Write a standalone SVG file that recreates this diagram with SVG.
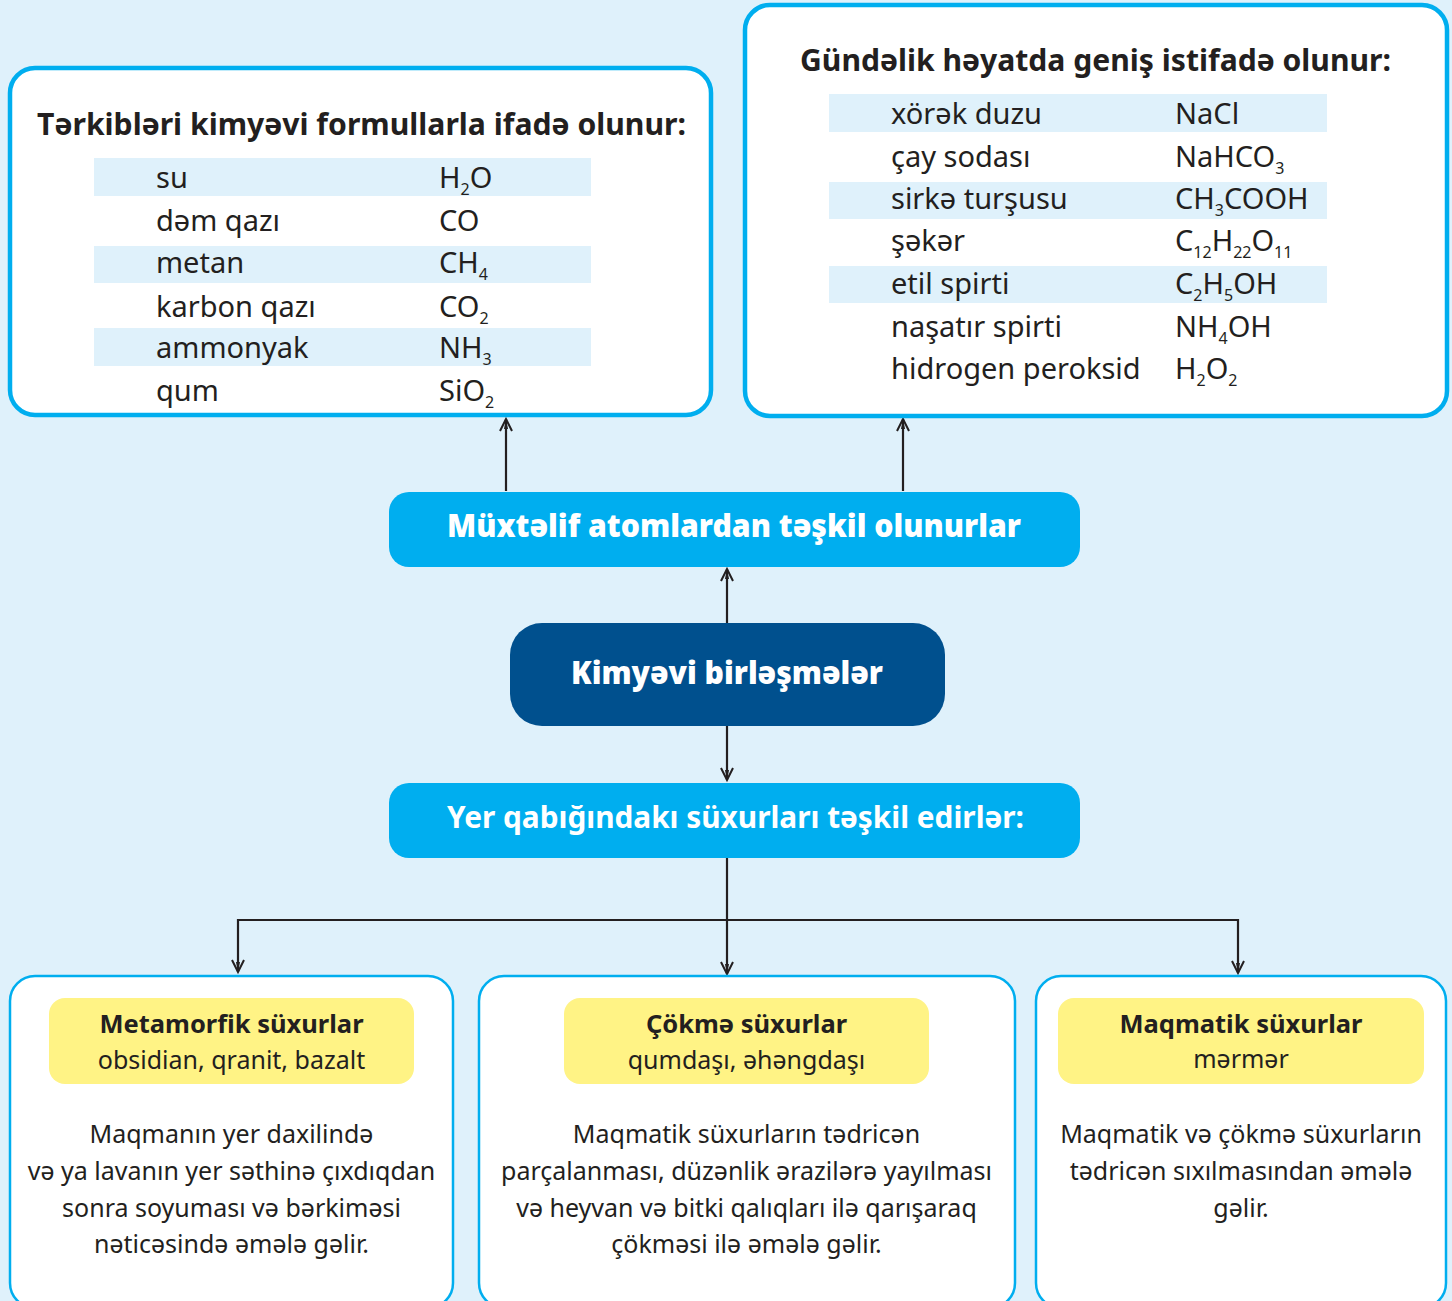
<svg xmlns="http://www.w3.org/2000/svg" width="1452" height="1301" viewBox="0 0 1452 1301">
<defs>
<style>
.t{font-family:"Noto Sans","Open Sans","DejaVu Sans",sans-serif;fill:#231f20}
.tb{font-size:29px}
.sub{font-size:16px}
.ttl{font-size:30px;font-weight:700}
.pt{font-family:"Noto Sans","Open Sans","DejaVu Sans",sans-serif;fill:#ffffff;font-weight:900;text-anchor:middle}
.hd{font-size:25.5px;font-weight:700;text-anchor:middle}
.sb{font-size:25px;text-anchor:middle}
.bd{font-size:25px;text-anchor:middle}
.bigbox{fill:#ffffff;stroke:#00aeef;stroke-width:4.5}
.lowbox{fill:#ffffff;stroke:#00aeef;stroke-width:2.5}
.stripe{fill:#dff1fb}
.yel{fill:#fff385}
.pill{fill:#00aeef}
.dark{fill:#00508e}
.con{fill:none;stroke:#231f20;stroke-width:2.2}
</style>
<marker id="arr" viewBox="-14 -8 16 16" refX="0" refY="0" markerWidth="16" markerHeight="16" markerUnits="userSpaceOnUse" orient="auto" overflow="visible">
<path d="M-12,-6 L0,0 L-12,6" fill="none" stroke="#231f20" stroke-width="2"/>
<path d="M-10,-2 L0,0 L-10,2 Z" fill="#231f20"/>
</marker>
</defs>
<rect x="0" y="0" width="1452" height="1301" fill="#dff1fb"/>

<g id="connectors">
<path class="con" d="M506,491 V419" marker-end="url(#arr)"/>
<path class="con" d="M903,491 V419" marker-end="url(#arr)"/>
<path class="con" d="M727,623 V569" marker-end="url(#arr)"/>
<path class="con" d="M727,726 V780" marker-end="url(#arr)"/>
<path class="con" d="M727,858 V974" marker-end="url(#arr)"/>
<path class="con" d="M727,920 H238 V972" marker-end="url(#arr)"/>
<path class="con" d="M727,920 H1238 V973" marker-end="url(#arr)"/>
</g>

<g id="formulas-box">
<rect class="bigbox" x="10" y="68" width="701" height="347" rx="25"/>
<text class="t ttl" x="361.5" y="135" text-anchor="middle" textLength="649" lengthAdjust="spacingAndGlyphs">Tərkibləri kimyəvi formullarla ifadə olunur:</text>
<rect class="stripe" x="94" y="158" width="497" height="38"/>
<rect class="stripe" x="94" y="246" width="497" height="37"/>
<rect class="stripe" x="94" y="328" width="497" height="38"/>
<text class="t tb" x="156" y="188">su</text>
<text class="t tb" x="439" y="188">H<tspan class="sub" dy="7">2</tspan><tspan dy="-7">O</tspan></text>
<text class="t tb" x="156" y="231">dəm qazı</text>
<text class="t tb" x="439" y="231">CO</text>
<text class="t tb" x="156" y="273">metan</text>
<text class="t tb" x="439" y="273">CH<tspan class="sub" dy="7">4</tspan></text>
<text class="t tb" x="156" y="317">karbon qazı</text>
<text class="t tb" x="439" y="317">CO<tspan class="sub" dy="7">2</tspan></text>
<text class="t tb" x="156" y="358">ammonyak</text>
<text class="t tb" x="439" y="358">NH<tspan class="sub" dy="7">3</tspan></text>
<text class="t tb" x="156" y="401">qum</text>
<text class="t tb" x="439" y="401">SiO<tspan class="sub" dy="7">2</tspan></text>
</g>

<g id="daily-box">
<rect class="bigbox" x="745" y="5" width="702" height="411" rx="25"/>
<text class="t ttl" x="1095.5" y="71" text-anchor="middle" textLength="591" lengthAdjust="spacingAndGlyphs">Gündəlik həyatda geniş istifadə olunur:</text>
<rect class="stripe" x="829" y="94" width="498" height="38"/>
<rect class="stripe" x="829" y="182" width="498" height="37"/>
<rect class="stripe" x="829" y="266" width="498" height="37"/>
<text class="t tb" x="891" y="124">xörək duzu</text>
<text class="t tb" x="1175" y="124">NaCl</text>
<text class="t tb" x="891" y="167">çay sodası</text>
<text class="t tb" x="1175" y="167">NaHCO<tspan class="sub" dy="7">3</tspan></text>
<text class="t tb" x="891" y="209">sirkə turşusu</text>
<text class="t tb" x="1175" y="209">CH<tspan class="sub" dy="7">3</tspan><tspan dy="-7">COOH</tspan></text>
<text class="t tb" x="891" y="251">şəkər</text>
<text class="t tb" x="1175" y="251">C<tspan class="sub" dy="7">12</tspan><tspan dy="-7">H</tspan><tspan class="sub" dy="7">22</tspan><tspan dy="-7">O</tspan><tspan class="sub" dy="7">11</tspan></text>
<text class="t tb" x="891" y="294">etil spirti</text>
<text class="t tb" x="1175" y="294">C<tspan class="sub" dy="7">2</tspan><tspan dy="-7">H</tspan><tspan class="sub" dy="7">5</tspan><tspan dy="-7">OH</tspan></text>
<text class="t tb" x="891" y="337">naşatır spirti</text>
<text class="t tb" x="1175" y="337">NH<tspan class="sub" dy="7">4</tspan><tspan dy="-7">OH</tspan></text>
<text class="t tb" x="891" y="379">hidrogen peroksid</text>
<text class="t tb" x="1175" y="379">H<tspan class="sub" dy="7">2</tspan><tspan dy="-7">O</tspan><tspan class="sub" dy="7">2</tspan></text>
</g>

<g id="atoms-node">
<rect class="pill" x="389" y="492" width="691" height="75" rx="20"/>
<text class="pt" x="734" y="537" font-size="31" textLength="574" lengthAdjust="spacingAndGlyphs">Müxtəlif atomlardan təşkil olunurlar</text>
</g>

<g id="compounds-node">
<rect class="dark" x="510" y="623" width="435" height="103" rx="32"/>
<text class="pt" x="727" y="684" font-size="31" textLength="312" lengthAdjust="spacingAndGlyphs">Kimyəvi birləşmələr</text>
</g>

<g id="rocks-node">
<rect class="pill" x="389" y="783" width="691" height="75" rx="20"/>
<text class="pt" x="735.5" y="828" font-size="30" font-weight="700" style="font-weight:700" textLength="577" lengthAdjust="spacingAndGlyphs">Yer qabığındakı süxurları təşkil edirlər:</text>
</g>

<g id="metamorphic-node">
<rect class="lowbox" x="10" y="976" width="443" height="332" rx="25"/>
<rect class="yel" x="49" y="998" width="365" height="86" rx="16"/>
<text class="t hd" x="231.5" y="1033">Metamorfik süxurlar</text>
<text class="t sb" x="231.5" y="1069">obsidian, qranit, bazalt</text>
<text class="t bd" x="231.5" y="1143">Maqmanın yer daxilində</text>
<text class="t bd" x="231.5" y="1180">və ya lavanın yer səthinə çıxdıqdan</text>
<text class="t bd" x="231.5" y="1217">sonra soyuması və bərkiməsi</text>
<text class="t bd" x="231.5" y="1253">nəticəsində əmələ gəlir.</text>
</g>

<g id="sedimentary-node">
<rect class="lowbox" x="479" y="976" width="536" height="332" rx="25"/>
<rect class="yel" x="564" y="998" width="365" height="86" rx="16"/>
<text class="t hd" x="746.5" y="1033">Çökmə süxurlar</text>
<text class="t sb" x="746.5" y="1069">qumdaşı, əhəngdaşı</text>
<text class="t bd" x="746.5" y="1143">Maqmatik süxurların tədricən</text>
<text class="t bd" x="746.5" y="1180">parçalanması, düzənlik ərazilərə yayılması</text>
<text class="t bd" x="746.5" y="1217">və heyvan və bitki qalıqları ilə qarışaraq</text>
<text class="t bd" x="746.5" y="1253">çökməsi ilə əmələ gəlir.</text>
</g>

<g id="igneous-node">
<rect class="lowbox" x="1036" y="976" width="410" height="332" rx="25"/>
<rect class="yel" x="1058" y="998" width="366" height="86" rx="16"/>
<text class="t hd" x="1241" y="1033">Maqmatik süxurlar</text>
<text class="t sb" x="1241" y="1068">mərmər</text>
<text class="t bd" x="1241" y="1143">Maqmatik və çökmə süxurların</text>
<text class="t bd" x="1241" y="1180">tədricən sıxılmasından əmələ</text>
<text class="t bd" x="1241" y="1217">gəlir.</text>
</g>
</svg>
